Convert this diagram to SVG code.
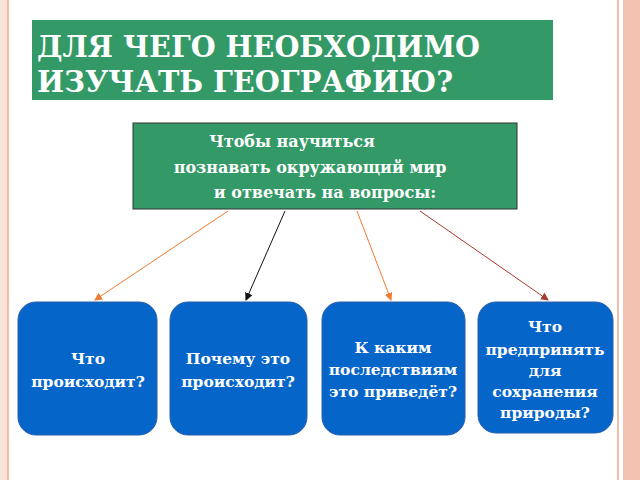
<svg xmlns="http://www.w3.org/2000/svg" width="640" height="480" viewBox="0 0 640 480">
<style>
.t{font-family:"DejaVu Serif","Liberation Serif",serif;font-weight:bold;fill:#fff}
.b{fill:#0565C9;stroke:#2a5fa8;stroke-width:1}
.q{font-size:15.5px;text-anchor:middle}
.m{font-size:16px;text-anchor:middle}
</style>
<defs>
<marker id="ao" markerWidth="8" markerHeight="8" refX="7" refY="4" orient="auto" markerUnits="userSpaceOnUse"><path d="M0,0L8,4L0,8z" fill="#F07A30"/></marker>
<marker id="ak" markerWidth="8" markerHeight="8" refX="7" refY="4" orient="auto" markerUnits="userSpaceOnUse"><path d="M0,0L8,4L0,8z" fill="#111"/></marker>
<marker id="ar" markerWidth="8" markerHeight="8" refX="7" refY="4" orient="auto" markerUnits="userSpaceOnUse"><path d="M0,0L8,4L0,8z" fill="#A8382A"/></marker>
</defs>
<rect width="640" height="480" fill="#fff"/>
<rect x="0" y="0" width="8" height="480" fill="#FBE3DA"/>
<line x1="8" y1="0" x2="8" y2="480" stroke="#F2A890" stroke-width="1.5"/>
<rect x="623" y="0" width="17" height="480" fill="#F3C2B0"/>
<line x1="618" y1="0" x2="618" y2="480" stroke="#F2A890" stroke-width="1.5"/>
<g id="title">
<rect x="32" y="20" width="521" height="80" fill="#339966"/>
<text class="t" x="37" y="57" font-size="29" textLength="443" lengthAdjust="spacingAndGlyphs">ДЛЯ ЧЕГО НЕОБХОДИМО</text>
<text class="t" x="37" y="92" font-size="29" textLength="416" lengthAdjust="spacingAndGlyphs">ИЗУЧАТЬ ГЕОГРАФИЮ?</text>
</g>
<g id="main">
<rect x="133" y="123" width="384" height="86" fill="#339966" stroke="#333" stroke-width="1"/>
<text class="t m" x="292" y="147">Чтобы научиться</text>
<text class="t m" x="310" y="173">познавать окружающий мир</text>
<text class="t m" x="325" y="198">и отвечать на вопросы:</text>
</g>
<g id="connectors" fill="none" stroke-width="1">
<line x1="228" y1="211" x2="95" y2="300" stroke="#F07A30" marker-end="url(#ao)"/>
<line x1="285" y1="211" x2="246" y2="300" stroke="#111" marker-end="url(#ak)"/>
<line x1="357" y1="211" x2="391" y2="300" stroke="#F07A30" marker-end="url(#ao)"/>
<line x1="420" y1="211" x2="548" y2="300" stroke="#A8382A" marker-end="url(#ar)"/>
</g>
<g id="n1"><rect class="b" x="18" y="302" width="139" height="133" rx="18"/>
<text class="t q" x="88" y="364">Что</text><text class="t q" x="88" y="387">происходит?</text></g>
<g id="n2"><rect class="b" x="170" y="302" width="137" height="133" rx="18"/>
<text class="t q" x="238" y="364">Почему это</text><text class="t q" x="238" y="387">происходит?</text></g>
<g id="n3"><rect class="b" x="322" y="302" width="143" height="133" rx="18"/>
<text class="t q" x="393" y="353">К каким</text><text class="t q" x="393" y="375">последствиям</text><text class="t q" x="393" y="397">это  приведёт?</text></g>
<g id="n4"><rect class="b" x="478" y="302" width="135" height="131" rx="18"/>
<text class="t q" x="545" y="332">Что</text><text class="t q" x="545" y="355">предпринять</text><text class="t q" x="545" y="376">для</text><text class="t q" x="545" y="397">сохранения</text><text class="t q" x="545" y="418">природы?</text></g>
</svg>
